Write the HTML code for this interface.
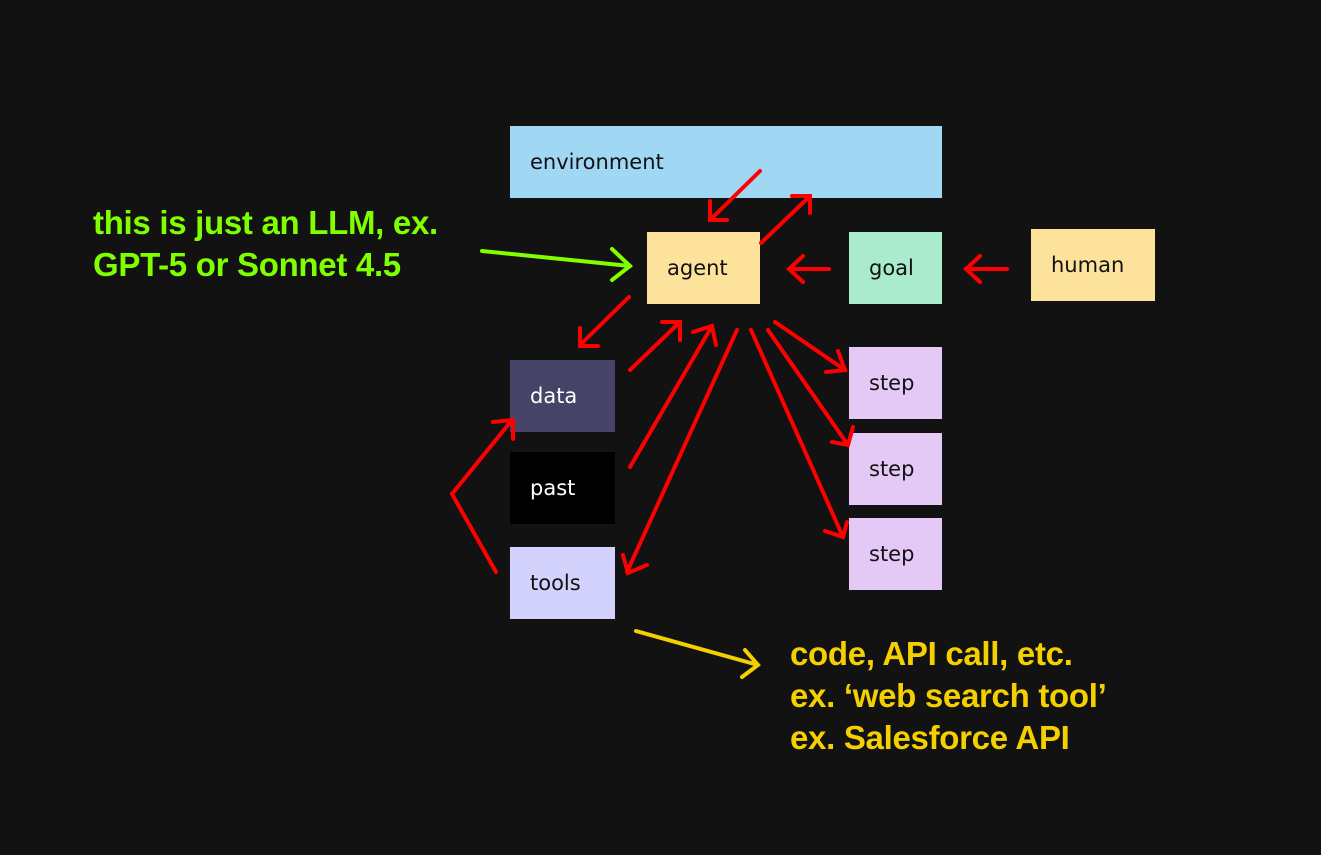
<!DOCTYPE html>
<html><head><meta charset="utf-8"><style>
body{margin:0;width:1321px;height:855px;background:#121212;position:relative;overflow:hidden;font-family:"Liberation Sans",sans-serif}
.b{position:absolute;box-sizing:border-box;font-family:"DejaVu Sans","Liberation Sans",sans-serif;font-size:21px;color:#111;display:flex;align-items:center;padding-left:20px}
.t{position:absolute;font-weight:bold;font-size:33px;line-height:42px;white-space:nowrap;letter-spacing:-0.3px}
</style></head><body>
<div class="b" style="left:510px;top:126px;width:432px;height:72px;background:#a0d8f4">environment</div>
<div class="b" style="left:647px;top:232px;width:113px;height:72px;background:#fde29c">agent</div>
<div class="b" style="left:849px;top:232px;width:93px;height:72px;background:#a9ebcc">goal</div>
<div class="b" style="left:1031px;top:229px;width:124px;height:72px;background:#fde29c">human</div>
<div class="b" style="left:510px;top:360px;width:105px;height:72px;background:#454466;color:#fff">data</div>
<div class="b" style="left:510px;top:452px;width:105px;height:72px;background:#000;color:#fff">past</div>
<div class="b" style="left:510px;top:547px;width:105px;height:72px;background:#d2d2fc">tools</div>
<div class="b" style="left:849px;top:347px;width:93px;height:72px;background:#e4c8f6">step</div>
<div class="b" style="left:849px;top:433px;width:93px;height:72px;background:#e4c8f6">step</div>
<div class="b" style="left:849px;top:518px;width:93px;height:72px;background:#e4c8f6">step</div>
<div class="t" style="left:93px;top:202px;color:#80ff00">this is just an LLM, ex.<br>GPT-5 or Sonnet 4.5</div>
<div class="t" style="left:790px;top:633px;color:#f5d000">code, API call, etc.<br>ex. ‘web search tool’<br>ex. Salesforce API</div>
<svg width="1321" height="855" style="position:absolute;left:0;top:0" fill="none" stroke-width="4" stroke-linecap="round" stroke-linejoin="miter">
<g stroke="#ff0000">
<path d="M760 171L710 220M710 201L710 220L727 220"/>
<path d="M761 243L810 196M792 196L810 196L810 213"/>
<path d="M829 269L789 269M803 256L789 269L803 282"/>
<path d="M1007 269L966 269M980 256L966 269L980 282"/>
<path d="M629 297L580 345M580 328L580 346L598 346"/>
<path d="M630 370L680 322M662 322L680 322L680 340"/>
<path d="M630 467L712 326M693 332L712 326L716 345"/>
<path d="M737 330L627 572M623 555L628 573L647 565"/>
<path d="M775 322L845 370M826 372L845 370L838 351"/>
<path d="M768 330L848 445M832 442L848 445L853 427"/>
<path d="M751 330L843 537M825 531L843 537L847 522"/>
<path d="M496 572L452 494L512 420M493 422L513 420L513 439"/>
</g>
<path stroke="#80ff00" d="M482 251L630 266M612 249L630 266L612 280"/>
<path stroke="#f5d000" d="M636 631L758 665M745 650L758 665L742 677"/>
</svg>
</body></html>
